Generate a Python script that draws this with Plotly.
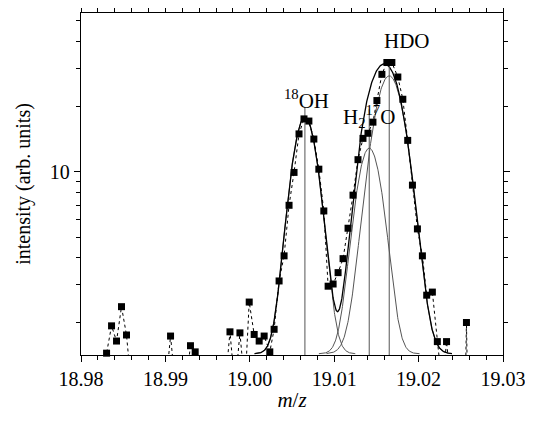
import numpy as np
import plotly.graph_objects as go

# measured spectrum (m/z, intensity); values of 1.0 / 0.1 are below the plotted range
mz = [18.98244, 18.98303, 18.98362, 18.98421, 18.98480, 18.98539, 18.98598,
      18.99002, 18.99061, 18.99120,
      18.99238, 18.99297, 18.99353, 18.99412,
      18.99706, 18.99765, 18.99824, 18.99883, 18.99942,
      18.99993, 19.00052, 19.00111, 19.00170, 19.00237, 19.00288, 19.00347,
      19.00406, 19.00465, 19.00524, 19.00583, 19.00642, 19.00700, 19.00759,
      19.00818, 19.00877, 19.00928, 19.00987, 19.01046, 19.01105, 19.01164,
      19.01223, 19.01282, 19.01341, 19.01400, 19.01459, 19.01506, 19.01565,
      19.01624, 19.01683, 19.01754, 19.01813, 19.01871, 19.01927, 19.01986,
      19.02045, 19.02096, 19.02163, 19.02222, 19.02281, 19.02331, 19.02387,
      19.02508, 19.02567, 19.02626]
intensity = [1.0, 1.45, 1.94, 1.65, 2.38, 1.76, 1.0,
             1.0, 1.74, 1.0,
             1.0, 1.57, 1.47, 1.0,
             1.0, 1.82, 1.0, 1.80, 1.0,
             2.50, 1.77, 1.65, 1.74, 1.47, 1.87, 3.13,
             4.09, 7.01, 9.95, 15.0, 17.6, 17.2, 14.2,
             10.3, 6.6, 2.96, 3.03, 3.42, 3.97, 5.49,
             7.81, 11.4, 14.3, 15.1, 17.0, 21.4, 28.3,
             32.1, 32.1, 27.5, 21.7, 14.0, 8.69, 5.45,
             4.09, 2.69, 2.78, 1.64, 1.0, 1.64, 1.0,
             0.1, 2.01, 0.1]

# Gaussian fit components
peak_names = ["18OH", "H2-17O", "HDO"]
peak_centers = [19.00653, 19.01415, 19.01652]
peak_amps = [16.4, 11.45, 26.4]
peak_sigmas = [0.00142, 0.00142, 0.00177]
baseline = 1.44

# stick markers at the assigned masses
stick_x = [19.00653, 19.01415, 19.01652]
stick_top = [19.8, 19.5, 33.0]

# labels
label_text = ["<sup>18</sup>OH", "H<sub>2</sub><sup>17</sup>O", "HDO"]
label_x = [19.00666, 19.01410, 19.01868]
label_y = [21.6, 18.0, 40.4]

y_min, y_max = 1.422, 54.4
FONT = "Liberation Serif"
FS = 20

fig = go.Figure()

# individual Gaussian components
for c, a, s in zip(peak_centers, peak_amps, peak_sigmas):
    xs = np.linspace(c - 4.2 * s, c + 4.2 * s, 300)
    ys = baseline + a * np.exp(-(xs - c) ** 2 / (2 * s ** 2))
    fig.add_trace(go.Scatter(x=xs, y=ys, mode="lines",
                             line=dict(color="#555555", width=1),
                             hoverinfo="skip", showlegend=False))

# sum of the fit
xs = np.linspace(peak_centers[0] - 4.2 * peak_sigmas[0],
                 peak_centers[2] + 4.2 * peak_sigmas[2], 600)
ysum = baseline + sum(a * np.exp(-(xs - c) ** 2 / (2 * s ** 2))
                      for c, a, s in zip(peak_centers, peak_amps, peak_sigmas))
fig.add_trace(go.Scatter(x=xs, y=ysum, mode="lines",
                         line=dict(color="black", width=1.3),
                         hoverinfo="skip", showlegend=False))

# sticks
for sx, st in zip(stick_x, stick_top):
    fig.add_trace(go.Scatter(x=[sx, sx], y=[0.5, st], mode="lines",
                             line=dict(color="#555555", width=1),
                             hoverinfo="skip", showlegend=False))

# data: dotted connecting line
fig.add_trace(go.Scatter(x=mz, y=intensity, mode="lines",
                         line=dict(color="black", width=1, dash="dot"),
                         showlegend=False))
# data: markers (only those within plotted range)
mk_x = [x for x, y in zip(mz, intensity) if y >= y_min]
mk_y = [y for y in intensity if y >= y_min]
fig.add_trace(go.Scatter(x=mk_x, y=mk_y, mode="markers",
                         marker=dict(symbol="square", size=7, color="black"),
                         cliponaxis=False, showlegend=False))

for t, lx, ly in zip(label_text, label_x, label_y):
    fig.add_annotation(x=lx, y=np.log10(ly), text=t, showarrow=False,
                       font=dict(family=FONT, size=21, color="black"))

# page body adds an 8px margin, so the figure is sized to end at the window edge
fig.update_layout(
    width=525, height=413,
    margin=dict(l=73, r=30, t=5, b=66, autoexpand=False),
    paper_bgcolor="white", plot_bgcolor="white",
    font=dict(family=FONT, size=FS, color="black"),
)
fig.update_xaxes(
    range=[18.98, 19.03], tickvals=[18.98, 18.99, 19.00, 19.01, 19.02, 19.03],
    tickformat=".2f", ticks="outside", ticklen=6, tickwidth=1.2, tickcolor="black",
    showline=True, linecolor="black", linewidth=1.3, mirror="ticks",
    showgrid=False, zeroline=False, automargin=False, ticklabeloverflow="allow",
    minor=dict(dtick=0.002, tick0=18.98, ticks="outside", ticklen=3.5,
               tickcolor="black", tickwidth=1, showgrid=False),
    title=dict(text="<i>m</i>/<i>z</i>", font=dict(family=FONT, size=21), standoff=3),
    tickfont=dict(family=FONT, size=FS),
)
fig.update_yaxes(
    type="log", range=[np.log10(y_min), np.log10(y_max)],
    tickvals=[10], ticktext=["10"],
    ticks="outside", ticklen=6, tickwidth=1.2, tickcolor="black",
    showline=True, linecolor="black", linewidth=1.3, mirror="ticks",
    showgrid=False, zeroline=False, automargin=False,
    minor=dict(tickvals=[2, 3, 4, 5, 6, 7, 8, 9, 20, 30, 40, 50], ticks="outside",
               ticklen=3.5, tickcolor="black", tickwidth=1, showgrid=False),
    title=dict(text="intensity (arb. units)", font=dict(family=FONT, size=FS), standoff=13),
    tickfont=dict(family=FONT, size=FS),
)

fig.write_html("out.html")
